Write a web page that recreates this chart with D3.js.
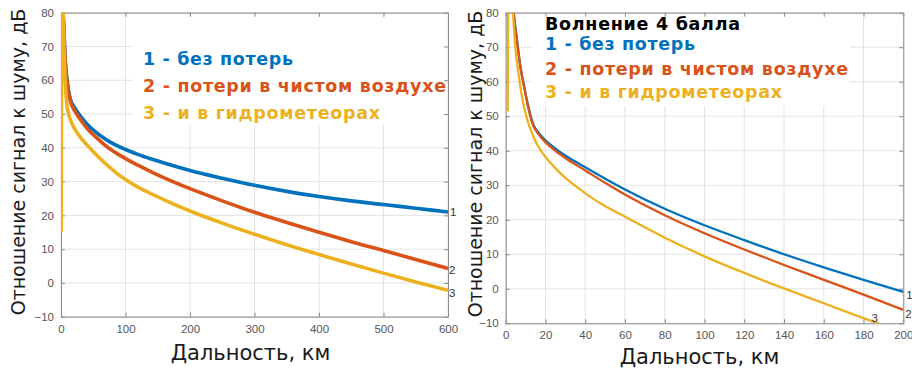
<!DOCTYPE html>
<html>
<head>
<meta charset="utf-8">
<script src="https://cdn.jsdelivr.net/npm/d3@7"></script>
<style>
html,body{margin:0;padding:0;background:#fff;}
svg{display:block;}
</style>
</head>
<body>
<svg id="chart" width="912" height="369"></svg>
<script>
// ---------- DATA ----------
// Left panel (range 0..600 km)
const leftBlueX   = [3.6, 5, 6, 8.8, 14, 22, 30, 42, 55, 68, 80, 100, 120, 140, 160, 200, 250, 300, 350, 400, 450, 500, 550, 600];
const leftBlueY   = [79, 73, 68, 61, 54.8, 51.6, 49.4, 46.7, 44.5, 42.7, 41.3, 39.5, 38.0, 36.7, 35.5, 33.3, 31.0, 28.9, 27.1, 25.6, 24.3, 23.2, 22.1, 21.0];
const leftRedX    = [3.6, 5, 6, 8.8, 14, 22, 30, 42, 55, 68, 80, 100, 120, 140, 160, 200, 250, 300, 350, 400, 450, 500, 550, 600];
const leftRedY    = [77.7, 72, 67.4, 60.5, 54.2, 50.7, 48.4, 45.4, 43.0, 40.8, 39.1, 36.8, 34.8, 32.9, 31.1, 27.9, 24.3, 20.9, 17.9, 15.0, 12.2, 9.6, 6.95, 4.3];
const leftYellowX = [0.4, 1.0, 1.4, 3, 5, 7, 9, 12, 16, 23, 30, 42, 55, 68, 80, 100, 120, 140, 160, 200, 250, 300, 350, 400, 450, 500, 550, 600];
const leftYellowY = [15, 88, 90, 82, 68, 58, 53, 49.8, 47.6, 45.0, 43.1, 40.5, 37.9, 35.5, 33.5, 30.6, 28.3, 26.4, 24.6, 21.3, 17.7, 14.4, 11.3, 8.4, 5.6, 2.9, 0.3, -2.2];

// Right panel (range 0..200 km), sea state 4
const rightBlueX   = [2.6, 3.8, 5.5, 7.2, 9.7, 12.2, 14, 16, 20, 25, 30, 40, 50, 60, 80, 100, 120, 140, 160, 180, 200];
const rightBlueY   = [88, 81, 72.9, 65.2, 57.4, 50.8, 47.5, 45.6, 43.0, 40.6, 38.6, 35.2, 31.9, 28.8, 23.2, 18.4, 14.1, 10.0, 6.2, 2.6, -0.9];
const rightRedX    = [2.6, 3.8, 5.5, 7.2, 9.7, 12.2, 14, 16, 20, 25, 30, 40, 50, 60, 80, 100, 120, 140, 160, 180, 200];
const rightRedY    = [88, 80.5, 72.7, 65, 57.2, 50.4, 47.1, 45.2, 42.5, 40.0, 37.9, 34.3, 30.7, 27.3, 21.3, 16.1, 11.4, 6.9, 2.6, -1.7, -6.1];
const rightYellowX = [1.0, 1.3, 2, 3, 4.7, 6.3, 8, 10.6, 14, 18.9, 23, 27.3, 32, 37.4, 45, 50, 60, 80, 100, 120, 140, 160, 180, 190];
const rightYellowY = [51.4, 88, 92, 86, 70.7, 63, 56.2, 49.5, 44.0, 39.0, 36.2, 33.6, 31.2, 28.8, 25.7, 24.0, 20.9, 14.8, 9.4, 4.6, 0.1, -4.2, -8.5, -10.6];

// Ticks & labels
const leftXTicks  = [0, 100, 200, 300, 400, 500, 600];
const rightXTicks = [0, 20, 40, 60, 80, 100, 120, 140, 160, 180, 200];
const yTicks      = [-10, 0, 10, 20, 30, 40, 50, 60, 70, 80];
const yTitle = "Отношение сигнал к шуму, дБ";
const xTitle = "Дальность, км";
const legendLines = ["1 - без потерь", "2 - потери в чистом воздухе", "3 - и в гидрометеорах"];
const rightHeader = "Волнение 4 балла";
const endLabels = ["1", "2", "3"];

// ---------- STYLE ----------
const colors = ["#0072BD", "#D95319", "#EDB120"];
const legendWidths = [150, 303, 237];
const headerWidth = 195;
const svg = d3.select("#chart");

function panel(opts) {
  const x = d3.scaleLinear().domain(opts.xDomain).range(opts.xRange);
  const y = d3.scaleLinear().domain([-10, 80]).range(opts.yRange);
  const g = svg.append("g");
  const [x0, x1] = opts.xRange;
  const [yb, yt] = opts.yRange;
  const id = "clip" + opts.name;
  svg.append("defs").append("clipPath").attr("id", id)
    .append("rect").attr("x", x0).attr("y", yt).attr("width", x1 - x0).attr("height", yb - yt);

  // grid
  g.append("g").selectAll("line").data(opts.xTicks).join("line")
    .attr("x1", d => x(d)).attr("x2", d => x(d)).attr("y1", yt).attr("y2", yb)
    .attr("stroke", "#e3e3e3").attr("stroke-width", 1);
  g.append("g").selectAll("line").data(yTicks).join("line")
    .attr("y1", d => y(d)).attr("y2", d => y(d)).attr("x1", x0).attr("x2", x1)
    .attr("stroke", "#e3e3e3").attr("stroke-width", 1);

  // legend white patch
  g.append("rect").attr("x", opts.patch[0]).attr("y", opts.patch[1])
    .attr("width", opts.patch[2]).attr("height", opts.patch[3]).attr("fill", "#fff");

  // axes via d3
  const axB = d3.axisBottom(x).tickValues(opts.xTicks).tickSizeInner(-4).tickSizeOuter(0).tickPadding(8);
  const axT = d3.axisTop(x).tickValues(opts.xTicks).tickSizeInner(-4).tickSizeOuter(0).tickFormat("");
  const axL = d3.axisLeft(y).tickValues(yTicks).tickSizeInner(-4).tickSizeOuter(0).tickPadding(7);
  const axR = d3.axisRight(y).tickValues(yTicks).tickSizeInner(-4).tickSizeOuter(0).tickFormat("");
  const style = s => {
    s.selectAll("path").attr("stroke", "#8a8a8a");
    s.selectAll("line").attr("stroke", "#8a8a8a");
    s.selectAll("text").attr("fill", "#555").style("font-family", "'Liberation Sans', Arial, sans-serif").style("font-size", "11.5px");
  };
  g.append("g").attr("transform", `translate(0,${yb})`).call(axB).call(style);
  g.append("g").attr("transform", `translate(0,${yt})`).call(axT).call(style);
  g.append("g").attr("transform", `translate(${x0},0)`).call(axL).call(style);
  g.append("g").attr("transform", `translate(${x1},0)`).call(axR).call(style);
  g.selectAll(".domain").attr("stroke", "#8a8a8a");

  // curves
  const line = d3.line().x(d => x(d[0])).y(d => y(d[1])).curve(d3.curveMonotoneX);
  const cg = g.append("g").attr("clip-path", `url(#${id})`);
  opts.series.forEach((s, i) => {
    cg.append("path").datum(d3.zip(s[0], s[1])).attr("d", line)
      .attr("fill", "none").attr("stroke", colors[i]).attr("stroke-width", opts.lw)
      .attr("stroke-linejoin", "round");
  });

  // end labels
  opts.endPos.forEach((p, i) => {
    g.append("text").attr("x", x(p[0]) + p[2]).attr("y", y(p[1]) + p[3]).text(endLabels[i])
      .attr("fill", "#333").style("font-family", "'Liberation Sans', Arial, sans-serif").style("font-size", "11.5px");
  });

  // legend
  const lg = g.append("g").style("font-family", "'DejaVu Sans', Verdana, sans-serif").style("font-weight", "bold").style("font-size", "17.5px");
  if (opts.header) {
    lg.append("text").attr("x", opts.legX).attr("y", opts.headerY).text(rightHeader).attr("fill", "#000")
      .attr("textLength", headerWidth).attr("lengthAdjust", "spacing");
  }
  legendLines.forEach((t, i) => {
    lg.append("text").attr("x", opts.legX).attr("y", opts.legY[i]).text(t).attr("fill", colors[i])
      .attr("textLength", legendWidths[i]).attr("lengthAdjust", "spacing");
  });

  // titles
  svg.append("text").attr("transform", `translate(${opts.yTitleX},${opts.yTitleY}) rotate(-90)`)
    .attr("text-anchor", "middle").text(yTitle).attr("fill", "#1a1a1a")
    .style("font-family", "'DejaVu Sans', sans-serif").style("font-size", "19px");
  svg.append("text").attr("x", (x0 + x1) / 2 + opts.xTitleDx).attr("y", opts.xTitleY)
    .attr("text-anchor", "middle").text(xTitle).attr("fill", "#1a1a1a")
    .style("font-family", "'DejaVu Sans', sans-serif").style("font-size", "21px");
}

panel({
  name: "L", xDomain: [0, 600], xRange: [61, 448], yRange: [316.7, 12.7], xTicks: leftXTicks, lw: 3.6,
  series: [[leftBlueX, leftBlueY], [leftRedX, leftRedY], [leftYellowX, leftYellowY]],
  patch: [133, 17, 314, 107],
  legX: 143, legY: [65, 91.7, 119.3], header: false,
  endPos: [[600, 21, 2, 4.5], [600, 4.3, 1, 6], [600, -2.2, 1, 6.5]],
  yTitleX: 25, yTitleY: 162, xTitleY: 360, xTitleDx: -4
});
panel({
  name: "R", xDomain: [0, 200], xRange: [505.7, 903.3], yRange: [323.3, 12.7], xTicks: rightXTicks, lw: 2.3,
  series: [[rightBlueX, rightBlueY], [rightRedX, rightRedY], [rightYellowX, rightYellowY]],
  patch: [532, 14, 318, 92],
  legX: 545, legY: [50, 75, 98.3], header: true, headerY: 30,
  endPos: [[200, -0.9, 3, 7], [200, -6.1, 2, 8], [184, -10, 0, -1]],
  yTitleX: 482, yTitleY: 164, xTitleY: 363.5, xTitleDx: -5
});
</script>
</body>
</html>
